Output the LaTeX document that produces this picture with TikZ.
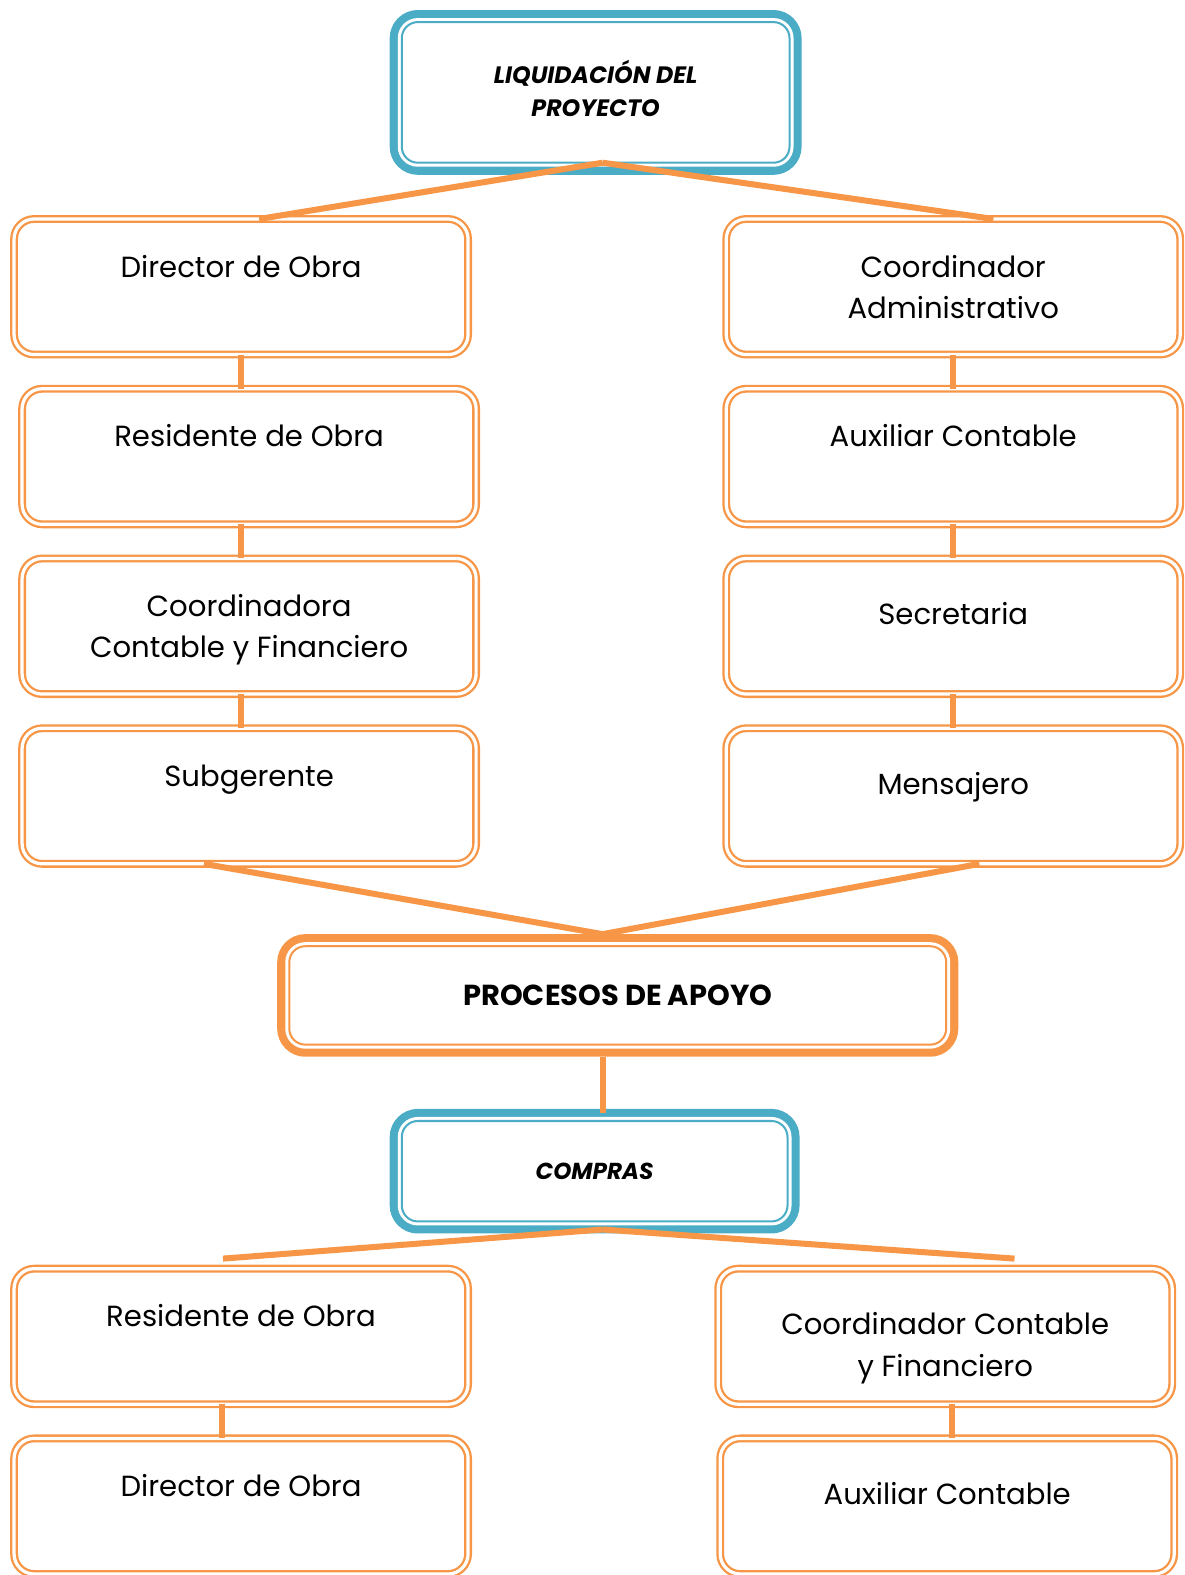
\documentclass[tikz,border=0pt]{standalone}
\usepackage{fontspec}
\setmainfont{Poppins}
\usetikzlibrary{positioning}
\definecolor{orgorange}{HTML}{F79646}
\definecolor{orgblue}{HTML}{4BACC6}

\begin{document}
\begin{tikzpicture}[x=0.5pt,y=-0.5pt]
  \tikzset{
    orgbox/.style={draw=orgorange, double=white, line width=1.15pt, double distance=1.6pt,
      fill=white, rounded corners=10pt, minimum width=226pt, inner xsep=0pt, inner ysep=0pt,
      outer sep=0pt, text height=29pt, text depth=38.5pt, align=center,
      font=\fontsize{14.5}{20.5}\selectfont},
    twolines/.style={text height=49.5pt, text depth=18pt},
    lowtext/.style={text height=33pt, text depth=34.5pt},
    lowtwolines/.style={text height=53.5pt, text depth=14pt},
    framebox/.style={draw=#1, line width=1pt, fill=white, rounded corners=8pt, outer sep=0pt,
      align=center, preaction={draw=#1, line width=12pt}, preaction={draw=white, line width=4pt}},
    link/.style={draw=orgorange, line width=3pt},
  }
  \useasboundingbox (0,0) rectangle (1179,1568);
  % Top Node
  \node [framebox=orgblue, minimum width=193pt, minimum height=70pt, text depth=4pt,
    font=\bfseries\itshape\fontsize{11.8}{16.5}\selectfont] (liquidacion) at (593,92) {LIQUIDACIÓN DEL\\PROYECTO};
  % Left Column Nodes
  \node [orgbox] (director) at (240,285.5) {Director de Obra};
  \node [orgbox, below=17pt of director, xshift=4pt] (residente) {Residente de Obra};
  \node [orgbox, twolines, below=17pt of residente] (coordinadora) {Coordinadora\\Contable y Financiero};
  \node [orgbox, below=17pt of coordinadora] (subgerente) {Subgerente};
  % Right Column Nodes
  \node [orgbox, twolines] (coordinador) at (949,285.5) {Coordinador\\Administrativo};
  \node [orgbox, below=17pt of coordinador] (auxiliar) {Auxiliar Contable};
  \node [orgbox, lowtext, below=17pt of auxiliar] (secretaria) {Secretaria};
  \node [orgbox, lowtext, below=17pt of secretaria] (mensajero) {Mensajero};
  % Middle Nodes
  \node [framebox=orgorange, minimum width=327pt, minimum height=49pt,
    font=\bfseries\fontsize{14.4}{17}\selectfont] (apoyo) at (615,991) {PROCESOS DE APOYO};
  \node [framebox=orgblue, minimum width=192pt, minimum height=50pt,
    font=\bfseries\itshape\fontsize{11.5}{14}\selectfont] (compras) at (592,1166) {COMPRAS};
  % Bottom Nodes
  \node [orgbox] (residente-b) at (240,1330.5) {Residente de Obra};
  \node [orgbox, below=17pt of residente-b] (director-b) {Director de Obra};
  \node [orgbox, lowtwolines] (coordinador-b) at (941,1330.5) {Coordinador Contable\\y Financiero};
  \node [orgbox, lowtext, below=17pt of coordinador-b, xshift=1pt] (auxiliar-b) {Auxiliar Contable};
  % Connectors
  \draw [link] ([xshift=3.5pt]liquidacion.south) -- ([xshift=9pt]director.north);
  \draw [link] ([xshift=3.5pt]liquidacion.south) -- ([xshift=20pt]coordinador.north);
  \draw [link] (director.south) -- (director.south |- residente.north);
  \draw [link] (residente.south -| director.south) -- (director.south |- coordinadora.north);
  \draw [link] (coordinadora.south -| director.south) -- (director.south |- subgerente.north);
  \draw [link] (coordinador.south) -- (coordinador.south |- auxiliar.north);
  \draw [link] (auxiliar.south) -- (auxiliar.south |- secretaria.north);
  \draw [link] (secretaria.south) -- (secretaria.south |- mensajero.north);
  \draw [link] ([xshift=-22.5pt]subgerente.south) -- ([xshift=-7.5pt,yshift=6pt]apoyo.north);
  \draw [link] ([xshift=13pt]mensajero.south) -- ([xshift=-7.5pt,yshift=6pt]apoyo.north);
  \draw [link] ([xshift=-7.5pt,yshift=-6pt]apoyo.south) -- ([xshift=4pt,yshift=4pt]compras.north);
  \draw [link] ([xshift=4pt,yshift=-4pt]compras.south) -- ([xshift=-9pt,yshift=5pt]residente-b.north);
  \draw [link] ([xshift=4pt,yshift=-4pt]compras.south) -- ([xshift=34.5pt,yshift=5pt]coordinador-b.north);
  \draw [link] ([xshift=-9.5pt]residente-b.south) -- ([xshift=-9.5pt]residente-b.south |- director-b.north);
  \draw [link] ([xshift=3.5pt]coordinador-b.south) -- ([xshift=3.5pt]coordinador-b.south |- auxiliar-b.north);
\end{tikzpicture}
\end{document}
